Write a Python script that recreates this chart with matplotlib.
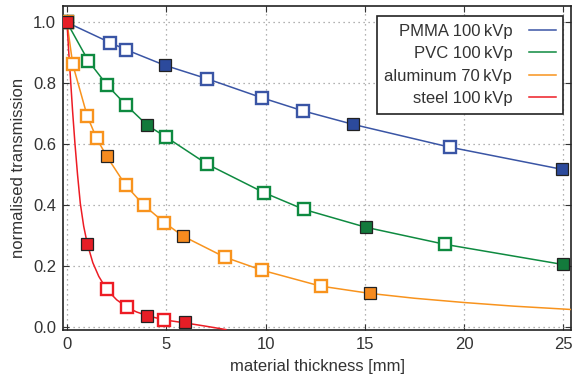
import matplotlib
matplotlib.use('Agg')
import matplotlib.pyplot as plt

plt.rcParams['font.family'] = ['Liberation Sans', 'DejaVu Sans']

# measured points (thickness in mm, normalised transmission)
pmma_x = [0.0, 2.16, 2.95, 4.93, 7.05, 9.83, 11.9, 14.4, 19.27, 24.93]
pmma_y = [1.0, 0.934, 0.911, 0.859, 0.815, 0.752, 0.709, 0.665, 0.590, 0.517]
pmma_filled = [False, False, False, True, False, False, False, True, False, True]

pvc_x = [0.0, 1.07, 2.03, 2.95, 4.04, 4.97, 7.06, 9.93, 11.94, 15.08, 19.06, 24.98]
pvc_y = [1.0, 0.874, 0.793, 0.730, 0.662, 0.624, 0.534, 0.440, 0.385, 0.326, 0.270, 0.204]
pvc_filled = [False, False, False, False, True, False, False, False, False, True, False, True]

al_x = [0.0, 0.29, 1.02, 1.49, 2.0, 2.95, 3.87, 4.9, 5.85, 7.95, 9.83, 12.77, 15.25]
al_y = [1.0, 0.862, 0.692, 0.619, 0.560, 0.465, 0.399, 0.342, 0.297, 0.228, 0.185, 0.133, 0.109]
al_filled = [False, False, False, False, True, False, False, False, True, False, False, False, True]

steel_x = [0.0, 1.02, 2.0, 3.03, 4.03, 4.88, 5.94]
steel_y = [1.0, 0.273, 0.122, 0.063, 0.036, 0.022, 0.014]
steel_filled = [True, True, False, False, True, False, True]

# fitted curves
pmma_cx = pmma_x
pmma_cy = pmma_y
pvc_cx = pvc_x
pvc_cy = pvc_y
al_cx = [0.0, 0.29, 1.02, 1.49, 2.0, 2.95, 3.87, 4.9, 5.85, 7.95, 9.83, 12.77, 15.25,
         17.5, 20.0, 22.5, 25.4]
al_cy = [1.0, 0.862, 0.692, 0.619, 0.560, 0.465, 0.399, 0.342, 0.297, 0.228, 0.185, 0.133,
         0.109, 0.093, 0.079, 0.067, 0.056]
steel_cx = [0.0, 0.08, 0.17, 0.28, 0.40, 0.53, 0.67, 0.84, 1.02, 1.3, 1.6, 2.0, 2.5, 3.03,
            3.5, 4.03, 4.88, 5.94, 7.0, 8.0]
steel_cy = [1.0, 0.91, 0.821, 0.71, 0.602, 0.50, 0.405, 0.33, 0.273, 0.21, 0.165, 0.122,
            0.088, 0.063, 0.048, 0.036, 0.022, 0.012, 0.001, -0.010]

labels = ['PMMA 100\u2009kVp', 'PVC 100\u2009kVp', 'aluminum 70\u2009kVp', 'steel 100\u2009kVp']
colors = ['#3a55a5', '#0e8a40', '#f8931d', '#ed1c24']
fill_colors = ['#2c4a9c', '#137a3c', '#f68b1f', '#e61e26']

series = [
    (pmma_x, pmma_y, pmma_filled, pmma_cx, pmma_cy),
    (pvc_x, pvc_y, pvc_filled, pvc_cx, pvc_cy),
    (al_x, al_y, al_filled, al_cx, al_cy),
    (steel_x, steel_y, steel_filled, steel_cx, steel_cy),
]


def main():
    fig, ax = plt.subplots(figsize=(5.73, 3.77), dpi=100)
    fig.subplots_adjust(left=0.110, right=0.997, top=0.984, bottom=0.125)

    for i, (xs, ys, filled, cx, cy) in enumerate(series):
        ax.plot(cx, cy, color=colors[i], lw=1.1, label=labels[i], zorder=3)
        ox = [x for x, f in zip(xs, filled) if not f]
        oy = [y for y, f in zip(ys, filled) if not f]
        fx = [x for x, f in zip(xs, filled) if f]
        fy = [y for y, f in zip(ys, filled) if f]
        ax.plot(ox, oy, 's', ms=8, mfc='white', mec=colors[i], mew=1.7, zorder=4 + i)
        ax.plot(fx, fy, 's', ms=8.5, mfc=fill_colors[i], mec='#222222', mew=0.9, zorder=4 + i)

    ax.set_xlim(-0.2, 25.4)
    ax.set_ylim(-0.011, 1.054)
    ax.set_xticks([0, 5, 10, 15, 20, 25])
    ax.set_yticks([0.0, 0.2, 0.4, 0.6, 0.8, 1.0])
    ax.set_yticklabels(['0.0', '0.2', '0.4', '0.6', '0.8', '1.0'])
    ax.tick_params(direction='in', top=True, right=True, labelsize=12, length=4,
                   colors='#333333', labelcolor='#333333', pad=5)
    ax.grid(True, linestyle=(0, (1, 3)), color='#999999', lw=0.9)
    for s in ax.spines.values():
        s.set_color('#222222')
        s.set_linewidth(1.2)

    ax.set_xlabel('material thickness [mm]', fontsize=12, color='#333333', labelpad=5)
    ax.set_ylabel('normalised transmission', fontsize=12, color='#333333', labelpad=5)

    leg = ax.legend(loc='upper right', markerfirst=False, fontsize=12, fancybox=False,
                    framealpha=1, edgecolor='#222222', handlelength=1.6, handletextpad=1.0,
                    borderpad=0.45, labelspacing=0.45, borderaxespad=0,
                    bbox_to_anchor=(0.984, 0.969))
    leg.get_frame().set_linewidth(1.2)
    for t in leg.get_texts():
        t.set_color('#333333')
        t.set_ha('right')

    fig.savefig('out.png', dpi=100)


if __name__ == '__main__':
    main()
